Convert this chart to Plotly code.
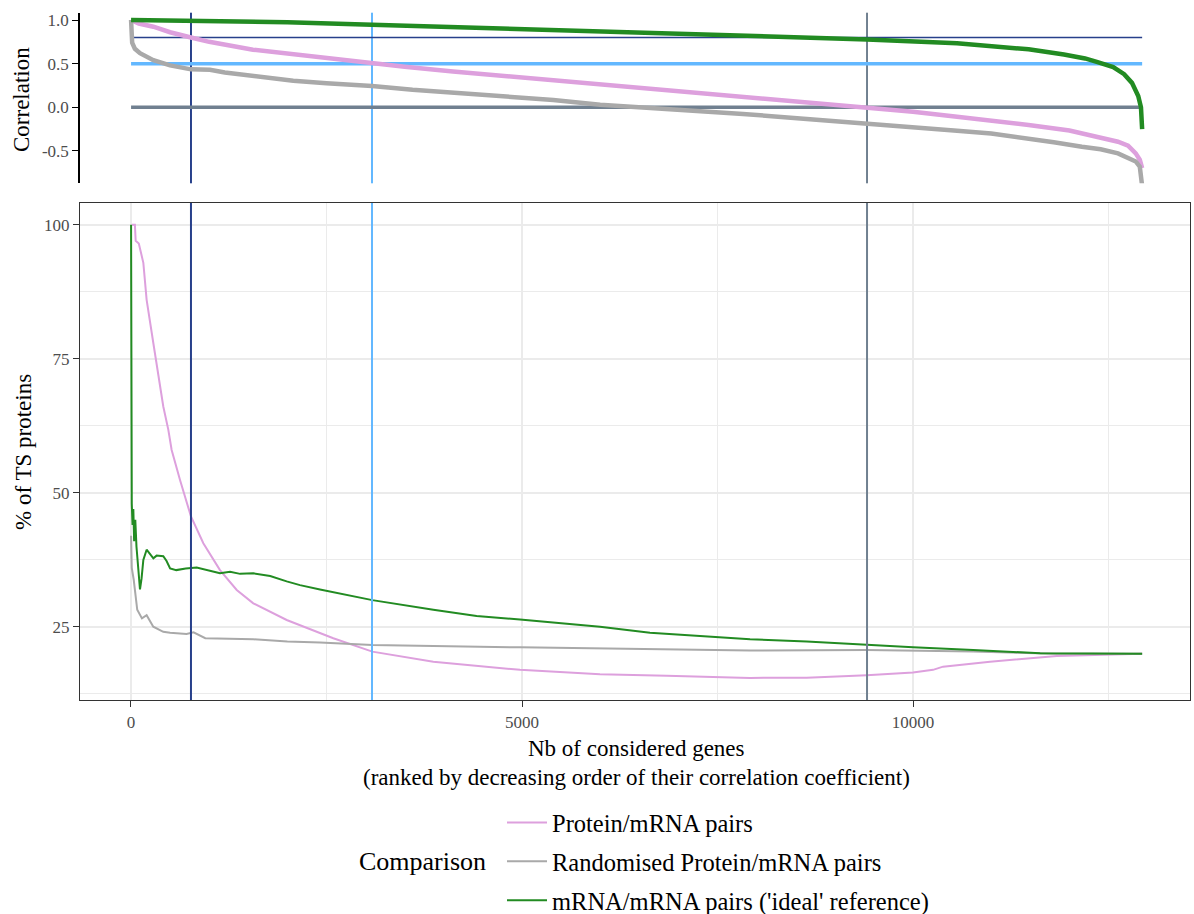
import plotly.graph_objects as go

# ---- Ranked correlation coefficients (top panel) ----
rank_pm = [1, 100, 286, 500, 767, 1000, 1560, 2000, 2500, 3082, 3500, 4118, 5000, 6000,
           7000, 8000, 9000, 9412, 10000, 10563, 11000, 11478, 12000, 12160, 12400, 12621,
           12750, 12848, 12900, 12930]
corr_pm = [1.0, 0.96, 0.923, 0.86, 0.80, 0.75, 0.66, 0.615, 0.56, 0.505, 0.465, 0.41, 0.34,
           0.265, 0.185, 0.11, 0.035, 0.0, -0.05, -0.108, -0.15, -0.203, -0.265, -0.298,
           -0.34, -0.394, -0.44, -0.527, -0.60, -0.695]

rank_rand = [1, 5, 15, 50, 115, 286, 500, 767, 1010, 1200, 1480, 1800, 2075, 2500, 3082,
             3600, 4118, 4800, 5400, 6000, 6900, 7826, 8600, 9412, 10000, 10563, 11000,
             11478, 11800, 12160, 12400, 12621, 12848, 12900, 12930]
corr_rand = [1.0, 0.85, 0.74, 0.67, 0.62, 0.54, 0.48, 0.435, 0.43, 0.40, 0.37, 0.34, 0.305,
             0.275, 0.245, 0.20, 0.17, 0.12, 0.085, 0.03, -0.02, -0.075, -0.13, -0.183,
             -0.22, -0.268, -0.30, -0.355, -0.40, -0.451, -0.48, -0.527, -0.62, -0.68, -0.90]

rank_mm = [1, 1000, 2000, 3082, 4500, 6253, 8000, 9412, 10563, 11000, 11478, 11930, 12200,
           12350, 12560, 12700, 12800, 12880, 12915, 12930]
corr_mm = [1.0, 0.99, 0.975, 0.945, 0.91, 0.867, 0.82, 0.778, 0.733, 0.705, 0.664, 0.605,
           0.56, 0.52, 0.46, 0.38, 0.28, 0.13, 0.0, -0.25]

# ---- Cumulative % of tissue-specific proteins (bottom panel) ----
genes_pm = [10, 50, 60, 100, 158, 200, 286, 413, 477, 520, 627, 767, 925, 1138, 1352, 1564,
            1991, 2417, 2587, 3086, 3866, 4974, 5997, 6850, 7916, 8640, 9408, 10000, 10256,
            10384, 10985, 11838, 12477, 12930]
pct_pm = [100, 100, 97, 96.5, 92.9, 86, 77.9, 66.1, 61.8, 58.0, 52.4, 45.6, 40.6, 35.6, 31.9,
          29.4, 26.3, 23.8, 22.9, 20.4, 18.5, 17.0, 16.2, 15.9, 15.5, 15.55, 16.0, 16.5, 17.0,
          17.6, 18.5, 19.6, 19.8, 20.0]

genes_rand = [1, 10, 35, 80, 140, 200, 285, 413, 500, 710, 800, 950, 1564, 2000, 2417, 3086,
              4974, 6637, 7916, 9408, 10770, 11838, 12930]
pct_rand = [42, 36, 33.8, 28.2, 26.6, 27.2, 25.05, 24.1, 23.9, 23.7, 24.0, 22.9, 22.7, 22.3,
            22.1, 21.65, 21.2, 20.9, 20.6, 20.7, 20.4, 20.0, 20.0]

genes_mm = [1, 5, 10, 20, 30, 40, 55, 70, 90, 115, 135, 158, 200, 286, 328, 413, 455, 500,
            580, 700, 840, 970, 1138, 1267, 1395, 1564, 1780, 1991, 2161, 2417, 3086, 3866,
            4420, 4974, 5997, 6637, 7916, 8640, 9408, 10000, 10770, 11625, 12930]
pct_mm = [100, 75, 48, 44, 47, 41, 45, 40, 36, 32, 34, 37.5, 39.4, 37.8, 38.3, 38.2, 37.3,
          35.9, 35.6, 35.9, 36.1, 35.6, 35.0, 35.3, 34.9, 35.0, 34.5, 33.5, 32.8, 32.0, 30.0,
          28.2, 27.05, 26.4, 25.05, 23.9, 22.7, 22.3, 21.65, 21.2, 20.7, 20.1, 20.0]

# ---- Correlation thresholds and the ranks where Protein/mRNA crosses them ----
thresholds = [0.8, 0.5, 0.0]
cross_ranks = [767, 3082, 9412]
n_genes = 12930

series_names = ["Protein/mRNA pairs", "Randomised Protein/mRNA pairs",
                "mRNA/mRNA pairs ('ideal' reference)"]
series_colors = ["#DDA0DD", "#A9A9A9", "#228B22"]
thr_colors = ["#27408B", "#63B8FF", "#708090"]
thr_hwidths = [1.5, 3.5, 3.5]

FONT = "Liberation Serif"
W, H = 1194, 914

fig = go.Figure()

top = [(rank_pm, corr_pm), (rank_rand, corr_rand), (rank_mm, corr_mm)]
bottom = [(genes_pm, pct_pm), (genes_rand, pct_rand), (genes_mm, pct_mm)]

for i, (xs, ys) in enumerate(top):
    fig.add_trace(go.Scatter(x=xs, y=ys, mode="lines", xaxis="x2", yaxis="y2",
                             line=dict(color=series_colors[i], width=4.5),
                             showlegend=False, hoverinfo="skip"))
for i, (xs, ys) in enumerate(bottom):
    fig.add_trace(go.Scatter(x=xs, y=ys, mode="lines", xaxis="x", yaxis="y",
                             name=series_names[i], legendgroup=f"g{i}",
                             line=dict(color=series_colors[i], width=2)))

shapes = []
for thr, rk, col, hw in zip(thresholds, cross_ranks, thr_colors, thr_hwidths):
    # threshold line across the ranked correlations
    shapes.append(dict(type="line", xref="x2", yref="y2", x0=1, x1=n_genes, y0=thr, y1=thr,
                       line=dict(color=col, width=hw), layer="below"))
    # rank at which the Protein/mRNA correlation reaches the threshold
    shapes.append(dict(type="line", xref="x2", yref="y2 domain", x0=rk, x1=rk, y0=0, y1=1,
                       line=dict(color=col, width=2), layer="below"))
    shapes.append(dict(type="line", xref="x", yref="y domain", x0=rk, x1=rk, y0=0, y1=1,
                       line=dict(color=col, width=2), layer="above"))

xdom = [80 / W, 1190 / W]
xrange = [-652, 13542]
tickfont = dict(family=FONT, size=17, color="#4D4D4D")
titlefont = dict(family=FONT, size=23, color="black")


def paper_y(py):
    return 1 - py / H


# axis titles placed as text in paper coordinates
titles = [
    dict(text="Nb of considered genes", x=636 / W, y=paper_y(748), textangle=0),
    dict(text="(ranked by decreasing order of their correlation coefficient)",
         x=636 / W, y=paper_y(777), textangle=0),
    dict(text="Correlation", x=21 / W, y=paper_y(100), textangle=-90),
    dict(text="% of TS proteins", x=23 / W, y=paper_y(452), textangle=-90),
]
annotations = [dict(text=t["text"], x=t["x"], y=t["y"], xref="paper", yref="paper",
                    xanchor="center", yanchor="middle", textangle=t["textangle"],
                    showarrow=False, font=titlefont) for t in titles]
annotations.append(dict(text="Comparison", x=488 / W, y=paper_y(861), xref="paper",
                        yref="paper", xanchor="right", yanchor="middle", showarrow=False,
                        font=dict(family=FONT, size=26, color="black")))

fig.update_layout(
    width=W, height=H,
    margin=dict(l=0, r=0, t=0, b=0, autoexpand=False),
    paper_bgcolor="white", plot_bgcolor="white",
    font=dict(family=FONT, color="black"),
    shapes=shapes,
    annotations=annotations,
    xaxis=dict(domain=xdom, range=xrange, anchor="y", tick0=0, dtick=5000, tickformat="d",
               showgrid=True, gridcolor="#EBEBEB", gridwidth=1.6,
               minor=dict(dtick=2500, tick0=0, showgrid=True, gridcolor="#EBEBEB", gridwidth=0.8),
               zeroline=False, showline=True, mirror=True, linecolor="#333333", linewidth=1.2,
               ticks="outside", ticklen=6, tickcolor="#333333", tickwidth=1.2,
               tickfont=tickfont),
    yaxis=dict(domain=[paper_y(700), paper_y(203)], range=[11.38, 104.05], anchor="x",
               tick0=0, dtick=25,
               showgrid=True, gridcolor="#EBEBEB", gridwidth=1.6,
               minor=dict(dtick=12.5, tick0=0, showgrid=True, gridcolor="#EBEBEB", gridwidth=0.8),
               zeroline=False, showline=True, mirror=True, linecolor="#333333", linewidth=1.2,
               ticks="outside", ticklen=6, tickcolor="#333333", tickwidth=1.2,
               tickfont=tickfont),
    xaxis2=dict(domain=xdom, range=xrange, anchor="y2", visible=False),
    yaxis2=dict(domain=[paper_y(183.3), paper_y(12.7)], range=[-0.870, 1.0836], anchor="x2",
                tickvals=[-0.5, 0.0, 0.5, 1.0], ticktext=["-0.5", "0.0", "0.5", "1.0"],
                showgrid=False, zeroline=False, showline=True, linecolor="black", linewidth=1.6,
                ticks="outside", ticklen=6, tickcolor="black", tickwidth=1.2,
                tickfont=tickfont),
    legend=dict(orientation="v", x=502 / W, y=paper_y(800), xanchor="left", yanchor="top",
                font=dict(family=FONT, size=24.5, color="black"),
                tracegroupgap=4, itemwidth=40, bgcolor="rgba(0,0,0,0)"),
)

fig.write_html("out.html")
